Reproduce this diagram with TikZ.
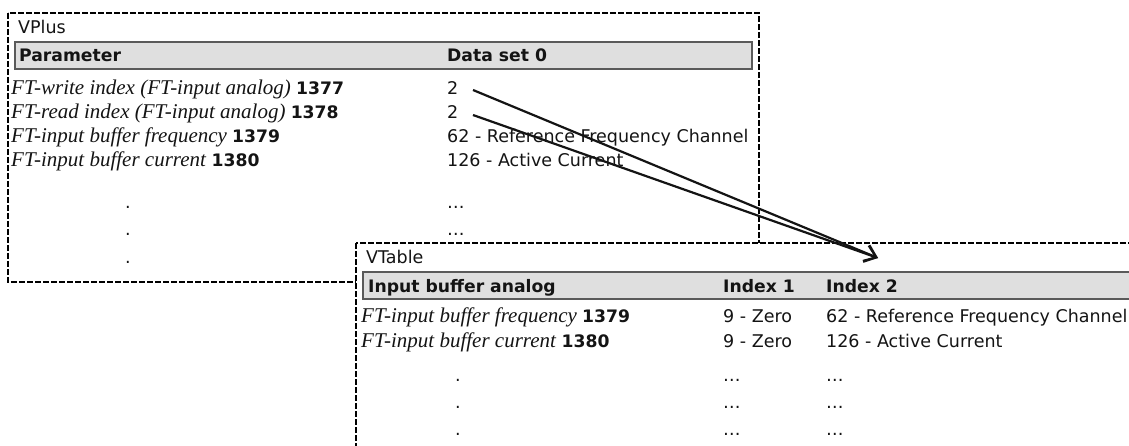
\documentclass[tikz,border=0pt]{standalone}
\usepackage{fontspec}
\setmainfont{Liberation Serif}
\newfontfamily\tsans{DejaVu Sans}
\usetikzlibrary{arrows.meta}
\definecolor{hdrfill}{HTML}{DFDFDF}
\definecolor{hdrline}{HTML}{5A5A5A}
\definecolor{ink}{HTML}{141414}
\newcommand{\sansfs}{\tsans\fontsize{17.5}{19}\selectfont}
\newcommand{\sansbf}{\tsans\bfseries\fontsize{17.2}{19}\selectfont}
\tikzset{
  frame/.style={draw=black, line width=2.6pt, dash pattern=on 6pt off 2pt, fill=white},
  hdrbar/.style={draw=hdrline, line width=1.5pt, fill=hdrfill},
  lbl/.style={anchor=base west, inner sep=0pt, text=ink, font=\sansfs},
  hd/.style={anchor=base west, inner sep=0pt, text=ink, font=\sansbf},
  par/.style={anchor=base west, inner sep=0pt, text=ink, font=\fontsize{21}{23}\selectfont},
  dot/.style={anchor=base, inner sep=0pt, text=ink, font=\sansfs},
  link/.style={draw=ink, line width=2.2pt, -{Straight Barb[length=11pt,width=17pt,line width=2.2pt]}}
}
\newcommand{\pn}[2]{\textit{#1} {\sansbf #2}}
\begin{document}
\begin{tikzpicture}[x=1pt,y=-1pt]
\clip (0,0) rectangle (1129,446);
\fill[white] (0,0) rectangle (1129,446);
% ---------- VPlus ----------
\draw[frame] (8,13) rectangle (759,282);
\node[lbl] (vplus) at (18,34) {VPlus};
\draw[hdrbar] (15,42) rectangle (752,69);
\node[hd] (vph1) at (19,62) {Parameter};
\node[hd] (vph2) at (447,62) {Data set 0};
\node[par] (vp1a) at (11,95) {\pn{FT-write index (FT-input analog)}{1377}};
\node[lbl] (vp1b) at (447,95) {2};
\node[par] (vp2a) at (11,119) {\pn{FT-read index (FT-input analog)}{1378}};
\node[lbl] (vp2b) at (447,119) {2};
\node[par] (vp3a) at (11,143) {\pn{FT-input buffer frequency}{1379}};
\node[lbl] (vp3b) at (447,143) {62 - Reference Frequency Channel};
\node[par] (vp4a) at (11,167) {\pn{FT-input buffer current}{1380}};
\node[lbl] (vp4b) at (447,167) {126 - Active Current};
\node[dot] (vpd1) at (128,209) {.};
\node[dot] (vpd2) at (128,236) {.};
\node[dot] (vpd3) at (128,263) {.};
\node[lbl] (vpe1) at (447,209) {…};
\node[lbl] (vpe2) at (447,236) {…};
% ---------- VTable ----------
\draw[frame] (356,243) rectangle (1150,470);
\node[lbl] (vtable) at (366,264) {VTable};
\draw[hdrbar] (363,272) rectangle (1150,299);
\node[hd] (vth1) at (368,292) {Input buffer analog};
\node[hd] (vth2) at (723,292) {Index 1};
\node[hd] (vth3) at (826,292) {Index 2};
\node[par] (vt1a) at (361,322) {\pn{FT-input buffer frequency}{1379}};
\node[lbl] (vt1b) at (723,322) {9 - Zero};
\node[lbl] (vt1c) at (826,322) {62 - Reference Frequency Channel};
\node[par] (vt2a) at (361,347) {\pn{FT-input buffer current}{1380}};
\node[lbl] (vt2b) at (723,347) {9 - Zero};
\node[lbl] (vt2c) at (826,347) {126 - Active Current};
\node[dot] (vtd1) at (458,381) {.};
\node[dot] (vtd2) at (458,408) {.};
\node[dot] (vtd3) at (458,435) {.};
\node[lbl] (vte1) at (723,381) {…};
\node[lbl] (vte2) at (723,408) {…};
\node[lbl] (vte3) at (723,435) {…};
\node[lbl] (vtf1) at (826,381) {…};
\node[lbl] (vtf2) at (826,408) {…};
\node[lbl] (vtf3) at (826,435) {…};
% ---------- links ----------
\coordinate (tip) at (878,258);
\coordinate (s1) at (473,90);
\coordinate (s2) at (473,115);
\draw[link] (s1) -- (tip);
\draw[link] (s2) -- (tip);
\end{tikzpicture}
\end{document}
